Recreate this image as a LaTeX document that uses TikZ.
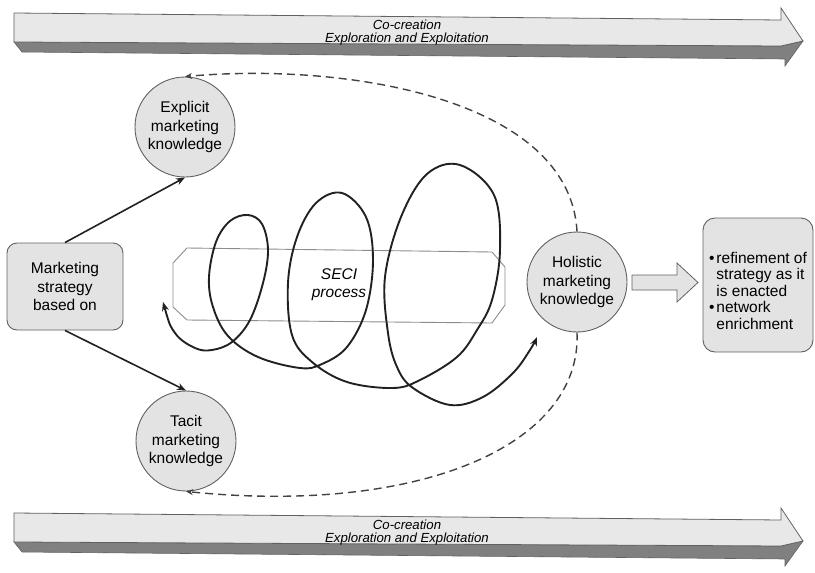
\documentclass[tikz,border=0pt]{standalone}
\usepackage{fontspec}
\setmainfont{Liberation Sans}
\usetikzlibrary{arrows.meta}

\definecolor{facelight}{gray}{0.91}
\definecolor{facedark}{gray}{0.50}
\definecolor{edgegray}{gray}{0.38}
\definecolor{nodefill}{gray}{0.89}
\definecolor{inkblack}{gray}{0.13}
\definecolor{secigray}{gray}{0.55}

\begin{document}
\begin{tikzpicture}[x=1pt,y=-1pt,
  bodyfont/.style={font=\fontsize{15.5}{18.5}\selectfont},
  kcircle/.style={circle, draw=edgegray, line width=0.9pt, fill=nodefill,
    minimum size=100pt, inner sep=0pt, align=center, bodyfont},
  roundbox/.style={draw=edgegray, line width=0.9pt, fill=nodefill,
    rounded corners=10pt, inner sep=0pt, align=center, bodyfont},
  conn/.style={draw=inkblack, line width=1.6pt,
    -{Stealth[length=9pt,width=7pt]}},
  feedback/.style={draw=inkblack!85, line width=1.4pt, dash pattern=on 8pt off 5pt,
    -{Stealth[length=7pt,width=6pt]}},
  coil/.style={draw=inkblack, line width=1.9pt,
    {Stealth[length=9pt,width=7pt]}-{Stealth[length=9pt,width=7pt]}},
  bandtext/.style={font=\fontsize{13.2}{13}\selectfont\itshape, align=center, inner sep=0pt},
  cobar/.pic={
    % dark underside of the flat arrow
    \filldraw[fill=facedark, draw=edgegray, line width=0.6pt]
      (14,42) -- (781,46) -- (803,41) -- (785,66) -- (785,59) -- (22,52) -- cycle;
    % light top face with its head
    \filldraw[fill=facelight, draw=edgegray, line width=0.8pt]
      (14,13) -- (781,20) -- (781,8) -- (803,41) -- (781,46) -- (14,42) -- cycle;
    \node[bandtext] (-label) at (407,32.5) {Co-creation\\Exploration and Exploitation};
  }]

\useasboundingbox (0,0) rectangle (815,573);

% co-creation bands, top and bottom
\pic (topband) at (0,0) {cobar};
\pic (bottomband) at (0,500) {cobar};

% SECI process frame
\draw[secigray, line width=0.9pt, fill=white]
  (187,248) -- (492,252) -- (505,267) -- (505,305) -- (492,323)
  -- (187,320) -- (173,307) -- (173,263) -- cycle;
\node[font=\fontsize{15.5}{18}\selectfont\itshape, align=center] (seci) at (339,285) {SECI\\process};

% knowledge nodes
\node[kcircle] (explicit) at (185,127) {Explicit\\marketing\\knowledge};
\node[kcircle] (tacit) at (186,441) {Tacit\\marketing\\knowledge};
\node[kcircle] (holistic) at (577,282) {Holistic\\marketing\\knowledge};

\node[roundbox, minimum width=116pt, minimum height=87pt] (strategy) at (65,286.5)
  {Marketing\\strategy\\based on};

% outcome box and its bullet list
\node[roundbox, rounded corners=12pt, minimum width=110pt, minimum height=134pt] (result) at (758,285) {};
\node[font=\fontsize{15.5}{16.5}\selectfont, inner sep=0pt] (resulttext) at (758,293)
  {\begin{tabular}{@{}l@{\hspace{2pt}}l@{}}
    \textbullet & refinement of\\
                & strategy as it\\
                & is enacted\\
    \textbullet & network\\
                & enrichment
   \end{tabular}};

% block arrow from holistic knowledge to the outcome
\filldraw[fill=nodefill, draw=edgegray, line width=0.8pt]
  (632,275) -- (677,275) -- (677,263) -- (698,282.5) -- (677,302) -- (677,290) -- (632,290) -- cycle;

% strategy feeds explicit and tacit knowledge
\draw[conn] (strategy.north) -- (explicit.south);
\draw[conn] (strategy.south) -- (tacit.north);

% feedback from holistic knowledge
\draw[feedback] (holistic.north) .. controls (570,100) and (350,62) .. (explicit.north);
\draw[feedback] (holistic.south) .. controls (582,445) and (420,515) .. (tacit.south);

% the SECI spiral
\draw[coil] plot[smooth, tension=0.6] coordinates {
  (163,302) (175,333) (195,348) (212,350) (232,342) (250,320) (263,283)
  (268,250) (262,224) (248,215) (230,221) (216,242) (209,277) (213,307)
  (228,336) (258,357) (300,368) (322,364) (347,347) (366,310) (373,260)
  (366,217) (342,193) (316,203) (297,237) (288,283) (292,335) (312,362)
  (347,382) (393,388) (420,380) (457,357) (477,330) (492,300) (500,250)
  (494,195) (460,165) (427,174) (401,217) (385,277) (388,333) (397,367)
  (413,388) (450,405) (483,397) (513,373) (530,350) (537,337)};

\end{tikzpicture}
\end{document}
